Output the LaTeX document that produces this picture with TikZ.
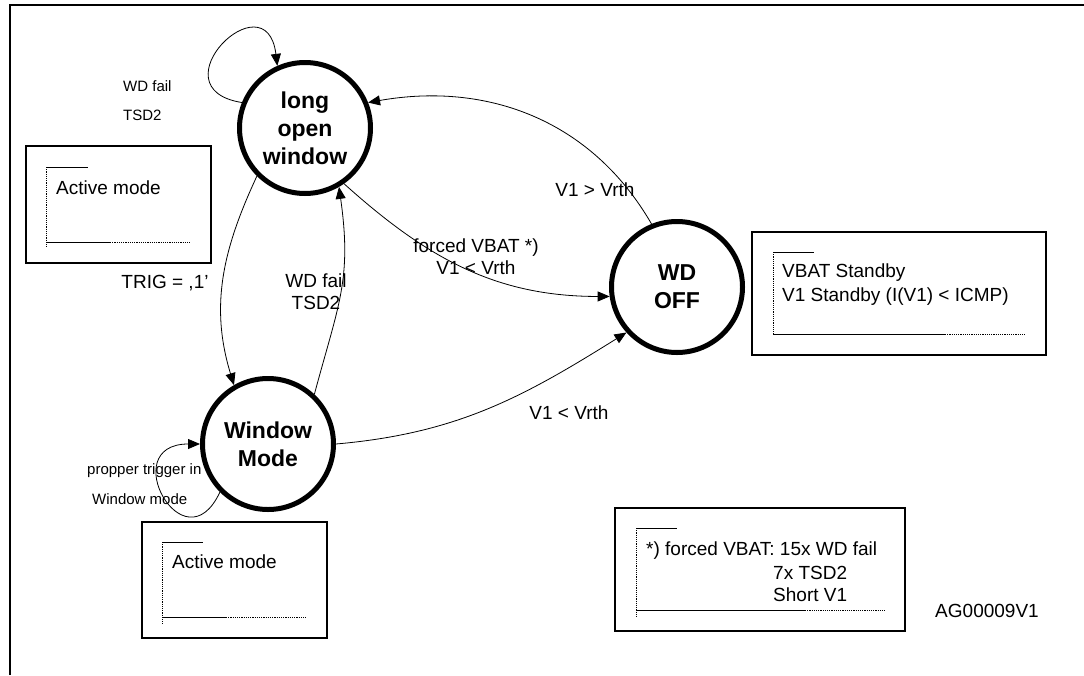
\documentclass[tikz,border=0pt]{standalone}
\usepackage{fontspec}
\setmainfont{Liberation Sans}
\usetikzlibrary{arrows.meta}
\tikzset{
  state/.style={circle, draw, line width=5pt, minimum size=131pt, inner sep=0pt, fill=white, align=center,
    font=\bfseries\fontsize{23}{28}\selectfont},
  arr/.style={-{Triangle[length=12pt,width=10pt]}, line width=0.8pt},
  lbl/.style={inner sep=0pt, font=\fontsize{19}{22}\selectfont},
  small/.style={inner sep=0pt, font=\fontsize{15}{18}\selectfont},
  boxline/.style={line width=1.8pt},
  thin/.style={line width=0.9pt},
  dots/.style={line width=0.9pt, dash pattern=on 1.2pt off 1pt},
}
\begin{document}
\begin{tikzpicture}[x=1pt,y=-1pt]
\useasboundingbox (0,0) rectangle (1084,675);
% frame
\draw[line width=2pt] (10,675) -- (10,5) -- (1084,5);

% labels placed before circles
\node[small, anchor=west] (wdf1) at (123,86) {WD fail};
\node[small, anchor=west] (tsd1) at (123,115) {TSD2};
\node[small, anchor=west] (pt1) at (87,471) {propper trigger in};
\node[small, anchor=west] (pt2) at (92,499) {Window mode};

% states
\node[state] (low) at (305,128) {long\\open\\window};
\node[state] (wm) at (268,444) {Window\\Mode};
\node[state] (wd) at (677,287) {WD\\OFF};

% edges
\draw[arr] (low.158) .. controls +(171:90pt) and +(97:90pt) .. (low.114);
\draw[arr] (wm.225) .. controls +(-115:85pt) and +(180:85pt) .. (wm.180);
\draw[arr] (wd.112) to[out=120,in=10] (low.22);
\draw[arr] (low.-55) to[out=-42,in=180] (wd.188);
\draw[arr] (wm.47) to[out=75,in=-82,looseness=1.15] (low.-60);
\draw[arr] (low.225) to[out=-115,in=107] (wm.120);
\draw[arr] (wm.0) to[out=5,in=212] (wd.222);

% edge labels
\node[lbl] (l1) at (595,190) {V1 > Vrth};
\node[lbl, align=center] (l2) at (476,257) {forced VBAT *)\\V1 < Vrth};
\node[lbl, align=center] (l3) at (316,292) {WD fail\\TSD2};
\node[lbl] (l4) at (165,283) {TRIG = ,1'};
\node[lbl] (l5) at (569,413) {V1 < Vrth};

% box 1
\draw[boxline] (26,146) rectangle (211,263);
\draw[thin] (46,167) -- (88,167);
\draw[dots] (46,167) -- (46,248);
\draw[thin] (46,242) -- (110,242);
\draw[dots] (110,242) -- (190,242);
\node[lbl, anchor=west] (b1) at (56,188) {Active mode};

% box 2
\draw[boxline] (142,522) rectangle (327,638);
\draw[thin] (162,542) -- (203,542);
\draw[dots] (162,542) -- (162,624);
\draw[thin] (162,617) -- (226,617);
\draw[dots] (226,617) -- (306,617);
\node[lbl, anchor=west] (b2) at (172,562) {Active mode};

% box 3
\draw[boxline] (752,232) rectangle (1046,355);
\draw[thin] (773,252) -- (814,252);
\draw[dots] (773,252) -- (773,334);
\draw[thin] (773,334) -- (945,334);
\draw[dots] (945,334) -- (1026,334);
\node[lbl, anchor=west] (b3a) at (782,273) {VBAT Standby};
\node[lbl, anchor=west] (b3b) at (782,297) {V1 Standby (I(V1) < ICMP)};

% box 4
\draw[boxline] (615,508) rectangle (905,631);
\draw[thin] (636,528) -- (677,528);
\draw[dots] (636,528) -- (636,617);
\draw[thin] (636,610) -- (805,610);
\draw[dots] (805,610) -- (885,610);
\node[lbl, anchor=west] (b4a) at (646,551) {*) forced VBAT: 15x WD fail};
\node[lbl, anchor=west] (b4b) at (773,573) {7x TSD2};
\node[lbl, anchor=west] (b4c) at (773,595) {Short V1};

\node[lbl] (ag) at (987,611) {AG00009V1};
\end{tikzpicture}
\end{document}
